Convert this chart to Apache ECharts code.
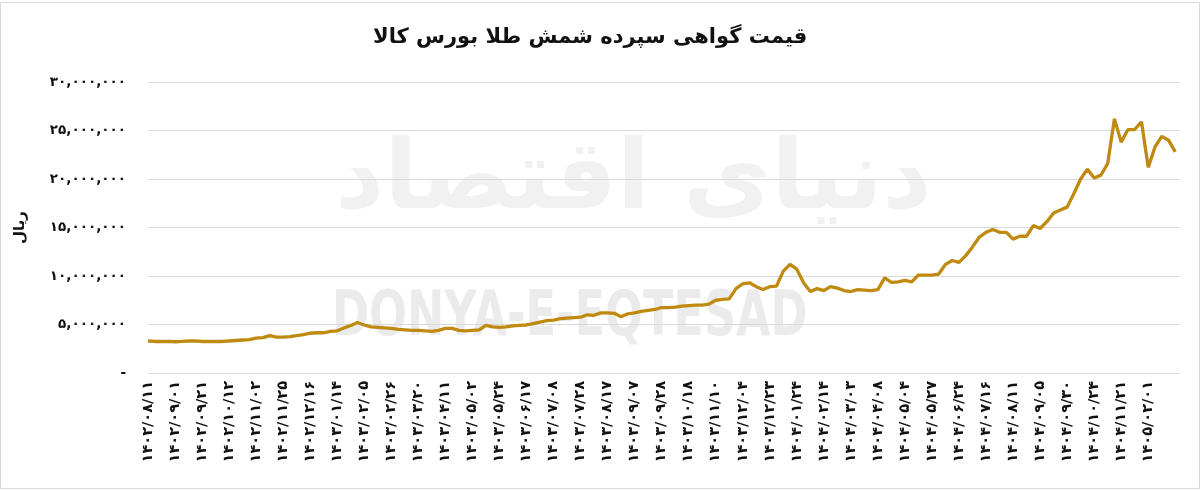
<!DOCTYPE html>
<html>
<head>
<meta charset="utf-8">
<script src="https://cdn.jsdelivr.net/npm/echarts@6/dist/echarts.min.js"></script>
<style>
html,body{margin:0;padding:0;background:#fff;}
#c{width:1200px;height:492px;}
</style>
</head>
<body>
<div id="c"></div>
<script>
// Tick labels (one every 4 data points)
const tickLabels = [
'۱۴۰۲/۰۸/۱۱','۱۴۰۲/۰۹/۰۱','۱۴۰۲/۰۹/۲۱','۱۴۰۲/۱۰/۱۲','۱۴۰۲/۱۱/۰۲','۱۴۰۲/۱۱/۲۵','۱۴۰۲/۱۲/۱۶',
'۱۴۰۳/۰۱/۱۴','۱۴۰۳/۰۲/۰۵','۱۴۰۳/۰۲/۲۶','۱۴۰۳/۰۳/۲۰','۱۴۰۳/۰۴/۱۱','۱۴۰۳/۰۵/۰۲','۱۴۰۳/۰۵/۲۴',
'۱۴۰۳/۰۶/۱۷','۱۴۰۳/۰۷/۰۸','۱۴۰۳/۰۷/۲۸','۱۴۰۳/۰۸/۱۷','۱۴۰۳/۰۹/۰۷','۱۴۰۳/۰۹/۲۸','۱۴۰۳/۱۰/۱۸',
'۱۴۰۳/۱۱/۱۰','۱۴۰۳/۱۲/۰۴','۱۴۰۳/۱۲/۲۳','۱۴۰۴/۰۱/۲۴','۱۴۰۴/۰۲/۱۴','۱۴۰۴/۰۳/۰۳','۱۴۰۴/۰۴/۰۸',
'۱۴۰۴/۰۵/۰۴','۱۴۰۴/۰۵/۲۷','۱۴۰۴/۰۶/۲۴','۱۴۰۴/۰۷/۱۶','۱۴۰۴/۰۸/۱۱','۱۴۰۴/۰۹/۰۵','۱۴۰۴/۰۹/۳۰',
'۱۴۰۴/۱۰/۲۴','۱۴۰۴/۱۱/۲۱','۱۴۰۵/۰۲/۰۱'
];
const pointsPerTick = 4;

// Price series (rial), evenly spaced trading samples
const prices = [
3300000,3250000,3250000,3250000,3220000,3250000,3300000,3300000,3250000,3250000,
3250000,3250000,3300000,3350000,3400000,3450000,3600000,3650000,3850000,3700000,
3700000,3750000,3850000,3950000,4100000,4150000,4150000,4300000,4350000,4650000,
4900000,5200000,4950000,4750000,4700000,4650000,4600000,4500000,4450000,4400000,
4400000,4350000,4300000,4400000,4600000,4600000,4400000,4350000,4400000,4450000,
4900000,4750000,4700000,4750000,4850000,4900000,4950000,5100000,5250000,5400000,
5450000,5600000,5650000,5700000,5750000,6000000,5950000,6200000,6200000,6150000,
5800000,6100000,6200000,6350000,6450000,6550000,6750000,6750000,6800000,6900000,
6950000,7000000,7000000,7100000,7500000,7600000,7650000,8700000,9200000,9300000,
8900000,8600000,8900000,8950000,10500000,11200000,10700000,9300000,8400000,8700000,
8500000,8900000,8750000,8500000,8400000,8600000,8550000,8500000,8600000,9800000,
9350000,9400000,9550000,9400000,10100000,10100000,10100000,10200000,11200000,11600000,
11400000,12100000,13000000,14000000,14500000,14800000,14500000,14500000,13800000,14100000,
14100000,15200000,14900000,15600000,16500000,16800000,17100000,18500000,20000000,21000000,
20100000,20400000,21600000,26200000,23800000,25100000,25100000,25900000,21200000,23300000,
24400000,24000000,22800000
];

const yTicks = ['-','۵,۰۰۰,۰۰۰','۱۰,۰۰۰,۰۰۰','۱۵,۰۰۰,۰۰۰','۲۰,۰۰۰,۰۰۰','۲۵,۰۰۰,۰۰۰','۳۰,۰۰۰,۰۰۰'];

const chart = echarts.init(document.getElementById('c'), null, {renderer:'canvas'});
const seriesData = prices.map((v,i)=>[i,v]);
const FONT = 'DejaVu Sans';

chart.setOption({
  animation:false,
  backgroundColor:'#fff',
  title:{
    text:'قیمت گواهی سپرده شمش طلا بورس کالا',
    left:368, top:22,
    textStyle:{fontFamily:FONT,fontWeight:'bold',fontSize:21,color:'#111'}
  },
  graphic:[
    {type:'rect',z:-10,shape:{x:0.5,y:2.5,width:1199,height:486},style:{fill:null,stroke:'#D9D9D9',lineWidth:1}},
    {type:'text',z:-5,left:335,top:135,style:{text:'دنیای اقتصاد',font:'bold 96px "DejaVu Sans"',fill:'#F1F1F1'}},
    {type:'text',z:-5,left:332,top:288,scaleX:0.72,style:{text:'DONYA-E-EQTESAD',font:'bold 62px "DejaVu Sans"',fill:'#EBEBEB'}}
  ],
  grid:{left:148,right:20,top:82,bottom:119,containLabel:false},
  xAxis:{
    type:'value',min:0,max:152.7,interval:pointsPerTick,
    axisLine:{show:false},axisTick:{show:false},splitLine:{show:false},
    axisLabel:{
      rotate:90,margin:8,fontFamily:FONT,fontWeight:'bold',fontSize:14.5,color:'#111',
      showMaxLabel:false,
      formatter:function(v){const k=v/pointsPerTick;return Number.isInteger(k)&&tickLabels[k]?tickLabels[k]:'';}
    }
  },
  yAxis:{
    type:'value',min:0,max:30000000,interval:5000000,
    name:'ریال',nameLocation:'middle',nameGap:120,
    nameTextStyle:{fontFamily:FONT,fontWeight:'bold',fontSize:15,color:'#111'},
    axisLine:{show:false},axisTick:{show:false},
    splitLine:{lineStyle:{color:'#D9D9D9',width:1}},
    axisLabel:{
      margin:22,fontFamily:FONT,fontWeight:'bold',fontSize:13.5,color:'#111',
      formatter:function(v){return yTicks[Math.round(v/5000000)];}
    }
  },
  series:[{
    type:'line',data:seriesData,showSymbol:false,
    lineStyle:{color:'#BF8A0F',width:3.3},itemStyle:{color:'#BF8A0F'},z:3
  }]
});
</script>
</body>
</html>
